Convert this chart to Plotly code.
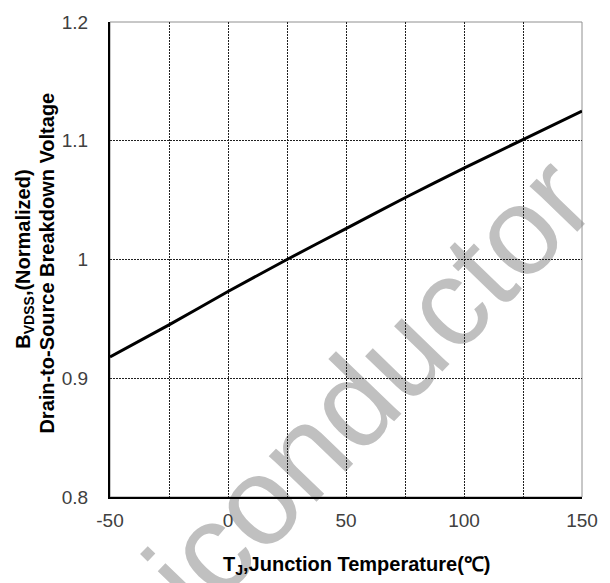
import plotly.graph_objects as go

# Data
temperature_c = [-50, -25, 0, 25, 50, 75, 100, 125, 150]
bvdss_norm = [0.918, 0.945, 0.973, 1.000, 1.026, 1.052, 1.077, 1.101, 1.125]

x_tickvals = [-50, 0, 50, 100, 150]
x_ticktext = ["-50", "0", "50", "100", "150"]
y_tickvals = [0.8, 0.9, 1.0, 1.1, 1.2]
y_ticktext = ["0.8", "0.9", "1", "1.1", "1.2"]

x_title = "T<sub>J</sub>,Junction Temperature(℃)"
y_title_1 = "B<sub>VDSS</sub>,(Normalized)"
y_title_2 = "Drain-to-Source Breakdown Voltage"
watermark = "Semiconductor"

FONT = "Liberation Sans, Arial, sans-serif"
GRID = dict(gridcolor="#202020", griddash="2px,1px", gridwidth=1)

fig = go.Figure()
fig.add_trace(go.Scatter(
    x=temperature_c, y=bvdss_norm, mode="lines",
    line=dict(color="black", width=3, shape="spline", smoothing=0.6),
    showlegend=False, hoverinfo="skip",
))

L, R, T, B = 110, 27, 15, 86
W, H = 610, 583
pw, ph = W - L - R, H - T - B

def px(xp):
    return (xp - L) / pw

def py(yp):
    return (H - B - yp) / ph

# watermark behind grid
cx, cy = px(271), py(469)
fig.add_shape(
    type="line", xref="paper", yref="paper",
    x0=cx - 0.01, x1=cx + 0.01, y0=cy, y1=cy,
    line=dict(width=0, color="rgba(0,0,0,0)"), layer="below",
    label=dict(text=watermark, font=dict(size=125, color="#c0c0c0", family=FONT),
               textangle=-46, textposition="middle", xanchor="center",
               yanchor="middle", padding=0),
)
# gray frame (top/right)
fig.add_shape(type="rect", xref="paper", yref="paper", x0=0, x1=1, y0=0, y1=1,
              line=dict(color="#909090", width=1), layer="below")

fig.add_annotation(text="<b>" + x_title + "</b>", xref="paper", yref="paper",
                   x=px(357), y=py(567), xanchor="center", yanchor="middle",
                   showarrow=False, font=dict(size=20, color="black", family=FONT))
fig.add_annotation(text="<b>" + y_title_1 + "</b>", xref="paper", yref="paper",
                   x=px(24), y=py(256), xanchor="center", yanchor="middle", textangle=-90,
                   showarrow=False, font=dict(size=20, color="black", family=FONT))
fig.add_annotation(text="<b>" + y_title_2 + "</b>", xref="paper", yref="paper",
                   x=px(47), y=py(260), xanchor="center", yanchor="middle", textangle=-90,
                   showarrow=False, font=dict(size=20, color="black", family=FONT))

fig.update_xaxes(
    range=[-50, 150], tickvals=x_tickvals, ticktext=x_ticktext,
    showgrid=True, **GRID,
    minor=dict(dtick=25, tick0=-50, showgrid=True, **GRID),
    showline=True, linecolor="black", linewidth=2, zeroline=False,
    ticks="", ticklabelstandoff=5,
    tickfont=dict(size=19, color="#404040", family=FONT),
)
fig.update_yaxes(
    range=[0.8, 1.2], tickvals=y_tickvals, ticktext=y_ticktext,
    showgrid=True, **GRID,
    showline=True, linecolor="black", linewidth=2, zeroline=False,
    ticks="", ticklabelstandoff=16,
    tickfont=dict(size=19, color="#404040", family=FONT),
)
fig.update_layout(
    width=W, height=H, margin=dict(l=L, r=R, t=T, b=B),
    plot_bgcolor="rgba(0,0,0,0)", paper_bgcolor="white",
    font=dict(family=FONT),
)
fig.write_html("out.html")
